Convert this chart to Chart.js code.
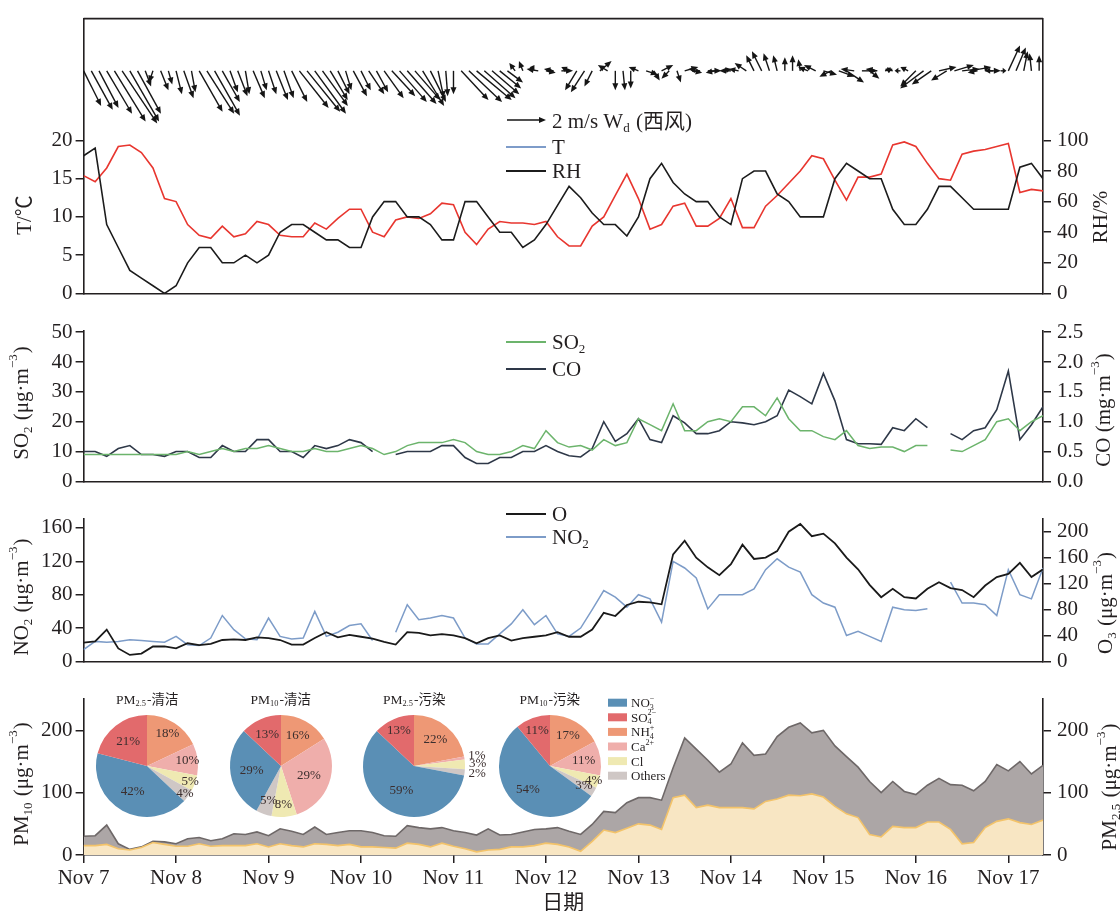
<!DOCTYPE html>
<html>
<head>
<meta charset="utf-8">
<title>Nov 7-17 meteorology and pollutants</title>
<script src="https://cdn.jsdelivr.net/npm/chart.js@4.4.1/dist/chart.umd.min.js"></script>
<style>
  body { margin: 0; background: #fff; }
  #fig { position: relative; width: 1120px; height: 911px; overflow: hidden; }
  #fig canvas { position: absolute; }
</style>
</head>
<body>
<div id="fig"></div>
<script>
// samples every 3 h from Nov 7 00:00, wind every 2 h
const STEP_H = 3;
const WIND_STEP_H = 2;
const dayLabels = ['Nov 7', 'Nov 8', 'Nov 9', 'Nov 10', 'Nov 11', 'Nov 12', 'Nov 13', 'Nov 14', 'Nov 15', 'Nov 16', 'Nov 17'];
const dayHours = [0, 24, 48, 72, 96, 120, 144, 168, 192, 216, 240];

// wind vector (m/s), u east, v north
const windU = [0.9,1.1,1.0,1.3,1.6,1.8,1.5,1.2,0.3,-0.2, 0.4,0.2,0.3,0.5,0.2,1.2,1.4,1.3,0.9,0.4,
  0.5,0.2,0.6,0.3,0.4,0.6,0.5,0.8,1.5,1.7, 1.6,1.3,0.9,0.6,0.3,0.7,0.5,0.8,0.6,1.0,
  1.2,1.4,1.5,1.3,1.1,0.8,0.3,0.1,0.0,1.4, 1.7,1.8,1.6,1.4,1.1,0.8,-0.3,-0.2,0.2,-0.6,
  0.5,-0.5,0.6,-0.4,-0.6,-0.7,-0.4,0.6,-0.5,0.0, 0.1,0.0,-0.5,0.6,0.3,0.6,-0.4,0.2,0.7,0.5,
  -0.6,0.7,-0.5,0.4,-0.6,-0.5,-0.6,-0.4,-0.5,-0.3, -0.2,0.0,0.0,-0.1,-0.5,-0.6,0.7,-0.6,0.8,0.9,
  -0.7,0.8,0.5,-0.6,0.4,-0.4,-0.3,-0.4,-0.8,-1.2, -1.0,0.9,-0.8,1.0,0.9,1.1,-0.5,0.8,-0.4,0.3,
  0.6,0.5,0.2,-0.1,0.0];
const windV = [-1.8,-2.0,-1.9,-2.2,-2.6,-2.7,-2.6,-2.2,-0.8,-0.6, -1.0,-0.7,-1.2,-1.4,-1.1,-2.1,-2.2,-2.3,-1.6,-1.1,
  -1.3,-1.2,-1.4,-1.0,-1.2,-1.5,-1.4,-1.6,-1.9,-2.1, -2.2,-1.8,-1.5,-1.2,-1.0,-1.3,-1.0,-1.2,-1.1,-1.4,
  -1.3,-1.6,-1.7,-1.5,-1.8,-1.6,-1.4,-1.3,-1.2,-1.5, -1.6,-1.5,-1.4,-1.2,-0.9,-0.6,0.4,0.5,0.3,0.1,
  -0.1,0.1,0.0,0.2,-1.0,-1.1,-0.8,0.5,0.3,-1.0, -1.0,-0.9,0.2,-0.2,-0.5,0.3,-0.4,-0.6,0.2,-0.1,
  0.1,0.0,-0.1,0.1,0.0,0.1,0.4,0.8,1.0,0.9, 0.8,0.7,0.8,0.6,0.2,0.3,-0.2,-0.3,-0.3,-0.6,
  0.1,0.0,-0.4,0.1,0.1,0.1,0.0,0.2,-0.8,-0.9, -0.7,0.2,-0.5,0.3,0.1,0.2,-0.1,0.0,0.0,0.0,
  1.3,1.2,1.0,0.9,0.8];

// temperature (°C) and relative humidity (%)
const tempT = [18,19,9,6,3,2,1,0,1,4, 6,6,4,4,5,4,5,8,9,9, 8,7,7,6,6,10,12,12,10,10, 9,7,7,12,12,10,8,8,6,7, 9,11.5,
  14,12.5,10.5,9,9,7.5,10,15,17,14.5, 13,12,12,10,9,15,16,16,13,12, 10,10,10,15,17,16,15,15,11,9, 9,11,14,14,12.5,11,11,11,11,16.5, 17,15];
const humRH = [77,73,82,96,97,92,82,62,60,45, 38,36,44,37,39,47,45,38,37,37, 46,42,49,55,55,40,37,48,50,49, 52,59,58,40,32,42,47,46,46,45, 47,37,
  31,31,44,50,64,78,62,42,45,57, 59,44,44,49,62,43,43,57,64,72, 80,90,88,74,61,76,76,78,97,99, 96,85,75,74,91,93,94,96,98,66, 68,67];

// SO2 (μg/m3) and CO (mg/m3)
const so2 = [9,9,9,9,9,9,9,9,9,10, 9,10,11,10,11,11,12,11,10,10, 11,10,10,11,12,11,9,10,12,13, 13,13,14,13,10,9,9,10,12,11, 17,13,
  11.5,12,10.5,14,12,13,21,19,17,26, 17,17,20,21,20,25,25,22,28,21, 17,17,15,14,17,12,11,11.5,11.5,10, 12,12,null,10.5,10,12,14,20,21,17, 20,22];
const co = [0.5,0.5,0.42,0.55,0.6,0.45,0.45,0.42,0.5,0.5, 0.4,0.4,0.6,0.5,0.5,0.7,0.7,0.5,0.5,0.4, 0.6,0.55,0.6,0.7,0.65,0.5,null,0.45,0.5,0.5,
  0.5,0.6,0.6,0.4,0.3,0.3,0.4,0.4,0.5,0.5, 0.6,0.5,
  0.43,0.41,0.55,1.0,0.67,0.8,1.05,0.7,0.65,1.1, 0.98,0.8,0.8,0.85,1.0,0.98,0.95,1.0,1.1,1.53, 1.42,1.3,1.81,1.35,0.7,0.63,0.63,0.62,0.9,0.85,
  1.05,0.9,null,0.8,0.7,0.85,0.9,1.2,1.85,0.7, 0.95,1.25];

// NO2 and O3 (μg/m3)
const no2 = [14,24,23,24,26,25,24,23,30,20, 19,28,55,38,27,26,52,30,27,28, 60,30,35,43,45,25,null,35,68,50, 52,55,52,28,21,21,33,45,62,44, 55,33,
  30,40,62,85,77,65,80,75,47,120, 112,100,63,80,80,80,87,110,123,113, 107,80,70,65,31,36,30,24,65,62, 61,63,null,95,70,70,68,55,110,80, 75,112];
const o3 = [29,31,49,20,10,12,23,23,20,28, 25,27,33,34,33,37,36,33,26,26, 36,45,37,41,38,35,30,26,45,44, 40,42,40,36,28,36,40,32,36,38, 40,45,
  38,38,49,75,70,87,92,91,88,165, 186,160,145,133,150,180,158,160,170,200, 212,193,197,182,160,142,118,99,112,99, 97,112,122,113,110,99,117,130,135,152, 130,142];

// PM10 and PM2.5 (μg/m3)
const pm10 = [30,31,48,18,9,13,22,21,18,26, 28,23,26,34,33,37,31,42,38,33, 45,33,36,39,39,36,31,30,47,44, 42,44,39,36,32,42,32,33,37,41, 42,44,
  38,33,49,70,68,84,92,92,88,140, 188,170,152,133,146,180,160,162,190,205, 212,196,200,175,158,141,118,100,118,102, 97,112,123,113,112,103,118,145,135,150, 130,144];
const pm25 = [15,15,17,10,8,12,20,17,14,14, 18,14,15,15,15,18,13,18,15,13, 18,17,15,17,13,13,12,11,19,17, 13,19,14,10,5,8,9,13,13,15, 19,17,
  13,6,22,40,36,43,50,48,41,92, 96,76,80,76,76,76,74,86,90,96, 95,98,93,78,66,60,33,29,46,44, 44,53,53,41,18,20,44,54,58,52, 49,56];

// water-soluble ion shares (%): NO3-, SO4 2-, NH4+, Ca2+, Cl, Others
const pieNames = [['PM', {sub: '2.5'}, '-清洁'], ['PM', {sub: '10'}, '-清洁'], ['PM', {sub: '2.5'}, '-污染'], ['PM', {sub: '10'}, '-污染']];
const pieShares = [
  [42, 21, 18, 10, 5, 4],
  [29, 13, 16, 29, 8, 5],
  [59, 13, 22, 1, 3, 2],
  [54, 11, 17, 11, 4, 3]
];
const ionLabels = [['NO', {sub: '3', sup: '−'}], ['SO', {sub: '4', sup: '2−'}], ['NH', {sub: '4', sup: '+'}], ['Ca', {sup: '2+'}], ['Cl'], ['Others']];

// ---- styling ----
const INK = '#231f20';
const SERIF = '"Liberation Serif", "Times New Roman", "Noto Sans CJK SC", serif';
const ionColors = ['#5a8fb5', '#e26a6c', '#ee9875', '#efaeab', '#efe9b2', '#cfc7c5'];
const PIE_ORDER = [2, 3, 4, 5, 0, 1]; // clockwise from 12 o'clock
const pieLabelR = [
  [0.58, 0.6, 0.75, 0.8, 0.9, 0.92],
  [0.58, 0.68, 0.68, 0.58, 0.75, 0.72],
  [0.54, 0.75, 0.66, 1.25, 1.25, 1.25],
  [0.63, 0.74, 0.69, 0.67, 0.9, 0.77]
];
const pieCX = [147.2, 280.7, 414.3, 549.8], PIE_CY = 765.7, PIE_R = 51;
const LEFT_W = 83.6, RIGHT_W = 77, X_MAX = 249;
const WIND_BASE = 29.1, PX_PER_MS = 19.5;

Chart.defaults.font.family = SERIF;
Chart.defaults.color = INK;

const fig = document.getElementById('fig');
function addCanvas(left, top, w, h) {
  const c = document.createElement('canvas');
  c.width = w; c.height = h;
  c.style.left = left + 'px'; c.style.top = top + 'px';
  c.style.width = w + 'px'; c.style.height = h + 'px';
  fig.appendChild(c);
  return c;
}

const pts = (arr, step) => arr.map((v, i) => ({x: i * step, y: v}));

// text with sub/superscripts; parts are strings or {sub, sup}
function rich(ctx, parts, x, y, size, align, rot) {
  const base = size + 'px ' + SERIF, small = (size * 0.62) + 'px ' + SERIF;
  const wOf = p => {
    if (typeof p === 'string') { ctx.font = base; return ctx.measureText(p).width; }
    ctx.font = small;
    return Math.max(p.sub ? ctx.measureText(p.sub).width : 0, p.sup ? ctx.measureText(p.sup).width : 0) + 1;
  };
  ctx.save();
  ctx.translate(x, y);
  if (rot) ctx.rotate(rot);
  const total = parts.reduce((s, p) => s + wOf(p), 0);
  let cx = align === 'center' ? -total / 2 : align === 'right' ? -total : 0;
  ctx.textBaseline = 'middle';
  ctx.textAlign = 'left';
  ctx.fillStyle = INK;
  parts.forEach(p => {
    const w = wOf(p);
    if (typeof p === 'string') {
      ctx.font = base; ctx.fillText(p, cx, 0);
    } else {
      ctx.font = small;
      if (p.sub) ctx.fillText(p.sub, cx, size * 0.3);
      if (p.sup) ctx.fillText(p.sup, cx, -size * 0.38);
    }
    cx += w;
  });
  ctx.restore();
}

function arrow(ctx, x0, y0, x1, y1) {
  const len = Math.hypot(x1 - x0, y1 - y0);
  if (len < 0.5) return;
  const a = Math.atan2(y1 - y0, x1 - x0);
  const hl = Math.min(7, len * 0.65), hw = 3;
  const c = Math.cos(a), s = Math.sin(a);
  ctx.beginPath();
  ctx.moveTo(x0, y0);
  ctx.lineTo(x1 - c * hl * 0.7, y1 - s * hl * 0.7);
  ctx.stroke();
  ctx.beginPath();
  ctx.moveTo(x1, y1);
  ctx.lineTo(x1 - hl * c + hw * s, y1 - hl * s - hw * c);
  ctx.lineTo(x1 - hl * c - hw * s, y1 - hl * s + hw * c);
  ctx.closePath();
  ctx.fill();
}

function legendLine(ctx, y, color, parts) {
  ctx.save();
  ctx.strokeStyle = color;
  ctx.lineWidth = 1.8;
  ctx.beginPath(); ctx.moveTo(506, y); ctx.lineTo(546, y); ctx.stroke();
  ctx.restore();
  rich(ctx, parts, 552, y + 1, 21, 'left');
}

function xAxis(show) {
  return {
    type: 'linear', min: 0, max: X_MAX,
    afterBuildTicks: s => { s.ticks = dayHours.map(v => ({value: v})); },
    afterFit: s => { s.height = show ? 50 : 0; },
    grid: {drawOnChartArea: false, drawTicks: show, tickLength: 8, color: INK, lineWidth: 1.5},
    border: {display: true, color: INK, width: 1.6},
    ticks: {display: show, autoSkip: false, maxRotation: 0, padding: 3, font: {size: 21}, color: INK,
      callback: (v, i) => dayLabels[i]}
  };
}

function yAxis(pos, max, tickVals, fmt) {
  return {
    position: pos, min: 0, max: max,
    afterBuildTicks: s => { s.ticks = tickVals.map(v => ({value: v})); },
    afterFit: s => { s.width = pos === 'left' ? LEFT_W : RIGHT_W; },
    grid: {drawOnChartArea: false, tickLength: 8, color: INK, lineWidth: 1.5},
    border: {display: true, color: INK, width: 1.6},
    ticks: {padding: pos === 'left' ? 3 : 6, font: {size: 21}, color: INK, callback: fmt || (v => String(v))}
  };
}

const line = (data, step, color, axis, width) => ({
  data: pts(data, step), borderColor: color, borderWidth: width || 1.6,
  pointRadius: 0, tension: 0, fill: false, yAxisID: axis, spanGaps: false
});

function panelChart(top, height, padTop, padBottom, datasets, scales, decor) {
  const c = addCanvas(0, top, 1120, height);
  return new Chart(c, {
    type: 'line',
    data: {datasets: datasets},
    options: {
      responsive: false, animation: false,
      layout: {padding: {top: padTop, bottom: padBottom, left: 0, right: 0}},
      plugins: {legend: {display: false}, tooltip: {enabled: false}},
      scales: scales
    },
    plugins: [{id: 'decor', afterDraw: ch => decor(ch, ch.ctx, top)}]
  });
}

const ROT = -Math.PI / 2;
const ugm = [' (μg·m', {sup: '−3'}, ')'];

// panel 1+2: wind, T and RH
panelChart(0, 312, 15, 6,
  [line(tempT, STEP_H, '#1c1c1c', 'y', 1.6), line(humRH, STEP_H, '#e8362f', 'y1', 1.6)],
  {x: xAxis(false), y: yAxis('left', 35.93, [0, 5, 10, 15, 20]), y1: yAxis('right', 179.6, [0, 20, 40, 60, 80, 100])},
  (ch, ctx, top) => {
    const {left, right} = ch.chartArea;
    ctx.save();
    ctx.strokeStyle = INK; ctx.lineWidth = 1.6;
    ctx.beginPath(); ctx.moveTo(left, ch.chartArea.top); ctx.lineTo(right, ch.chartArea.top); ctx.stroke();
    // wind arrows
    const xs = ch.scales.x, y0 = ch.scales.y.getPixelForValue(WIND_BASE);
    ctx.strokeStyle = '#151515'; ctx.fillStyle = '#151515'; ctx.lineWidth = 1.4;
    windU.forEach((u, j) => {
      const x0 = xs.getPixelForValue(j * WIND_STEP_H);
      arrow(ctx, x0, y0, x0 + u * PX_PER_MS, y0 - windV[j] * PX_PER_MS);
    });
    arrow(ctx, 507, 120 - top, 507 + 2 * PX_PER_MS, 120 - top);
    ctx.restore();
    rich(ctx, ['2 m/s W', {sub: 'd'}, ' (西风)'], 552, 122 - top, 21, 'left');
    legendLine(ctx, 147 - top, '#7e9cc9', ['T']);
    legendLine(ctx, 171 - top, '#1c1c1c', ['RH']);
    rich(ctx, ['T/℃'], 25, 215 - top, 21, 'center', ROT);
    rich(ctx, ['RH/%'], 1101, 217 - top, 21, 'center', ROT);
  });

// panel 3: SO2 and CO
panelChart(312, 188, 18.7, 6.7,
  [line(so2, STEP_H, '#6cb46c', 'y', 1.5), line(co, STEP_H, '#2e3848', 'y1', 1.6)],
  {x: xAxis(false), y: yAxis('left', 50.5, [0, 10, 20, 30, 40, 50]),
   y1: yAxis('right', 2.525, [0, 0.5, 1, 1.5, 2, 2.5], v => v.toFixed(1))},
  (ch, ctx, top) => {
    legendLine(ctx, 342 - top, '#6cb46c', ['SO', {sub: '2'}]);
    legendLine(ctx, 369 - top, '#2e3848', ['CO']);
    rich(ctx, ['SO', {sub: '2'}].concat(ugm), 22, 403 - top, 21, 'center', ROT);
    rich(ctx, ['CO (mg·m', {sup: '−3'}, ')'], 1104, 410 - top, 21, 'center', ROT);
  });

// panel 4: NO2 and O3
panelChart(500, 180, 10, 6.7,
  [line(o3, STEP_H, '#1a1a1a', 'y1', 1.8), line(no2, STEP_H, '#7d9cc8', 'y', 1.5)],
  {x: xAxis(false), y: yAxis('left', 171.2, [0, 40, 80, 120, 160]),
   y1: yAxis('right', 220.2, [0, 40, 80, 120, 160, 200])},
  (ch, ctx, top) => {
    legendLine(ctx, 514 - top, '#1a1a1a', ['O']);
    legendLine(ctx, 537 - top, '#7d9cc8', ['NO', {sub: '2'}]);
    rich(ctx, ['NO', {sub: '2'}].concat(ugm), 22, 597 - top, 21, 'center', ROT);
    rich(ctx, ['O', {sub: '3'}].concat(ugm), 1106, 603 - top, 21, 'center', ROT);
  });

// panel 5: PM10 and PM2.5 areas
panelChart(680, 231, 11.7, 6,
  [
    {data: pts(pm25, STEP_H), yAxisID: 'y1', borderColor: '#f3c36a', backgroundColor: '#f8e6c3',
      borderWidth: 1.6, pointRadius: 0, tension: 0, fill: 'origin'},
    {data: pts(pm10, STEP_H), yAxisID: 'y', borderColor: '#6e6868', backgroundColor: '#aca6a6',
      borderWidth: 1.6, pointRadius: 0, tension: 0, fill: 'origin'}
  ],
  {x: xAxis(true), y: yAxis('left', 251, [0, 100, 200]), y1: yAxis('right', 251, [0, 100, 200])},
  (ch, ctx, top) => {
    rich(ctx, ['PM', {sub: '10'}].concat(ugm), 22, 784 - top, 21, 'center', ROT);
    rich(ctx, ['PM', {sub: '2.5'}].concat(ugm), 1110, 787 - top, 21, 'center', ROT);
    rich(ctx, ['日期'], (ch.chartArea.left + ch.chartArea.right) / 2, 903 - top, 21, 'center');
    pieNames.forEach((n, k) => rich(ctx, n, pieCX[k], 700 - top, 13.5, 'center'));
    ionLabels.forEach((lab, k) => {
      const y = 702.7 + k * 14.6 - top;
      ctx.fillStyle = ionColors[k];
      ctx.fillRect(608, y - 4, 19, 8);
      rich(ctx, lab, 631, y + 1, 13, 'left');
    });
  });

// inset pies
const pieLabels = {
  id: 'pieLabels',
  afterDatasetsDraw(ch) {
    const ctx = ch.ctx, k = ch.options.pieIndex;
    const arcs = ch.getDatasetMeta(0).data;
    ctx.save();
    ctx.font = '13px ' + SERIF;
    ctx.fillStyle = '#3b2e2e';
    ctx.textAlign = 'center';
    ctx.textBaseline = 'middle';
    arcs.forEach((arc, i) => {
      const ion = PIE_ORDER[i];
      const mid = (arc.startAngle + arc.endAngle) / 2;
      const r = arc.outerRadius * pieLabelR[k][ion];
      ctx.fillText(pieShares[k][ion] + '%', arc.x + Math.cos(mid) * r, arc.y + Math.sin(mid) * r);
    });
    ctx.restore();
  }
};

pieShares.forEach((shares, k) => {
  const c = addCanvas(pieCX[k] - 90, PIE_CY - 60, 180, 120);
  new Chart(c, {
    type: 'pie',
    data: {
      labels: PIE_ORDER.map(i => 'ion' + i),
      datasets: [{data: PIE_ORDER.map(i => shares[i]), backgroundColor: PIE_ORDER.map(i => ionColors[i]), borderWidth: 0}]
    },
    options: {
      responsive: false, animation: false, radius: PIE_R, pieIndex: k,
      layout: {padding: 0},
      plugins: {legend: {display: false}, tooltip: {enabled: false}}
    },
    plugins: [pieLabels]
  });
});
</script>
</body>
</html>
